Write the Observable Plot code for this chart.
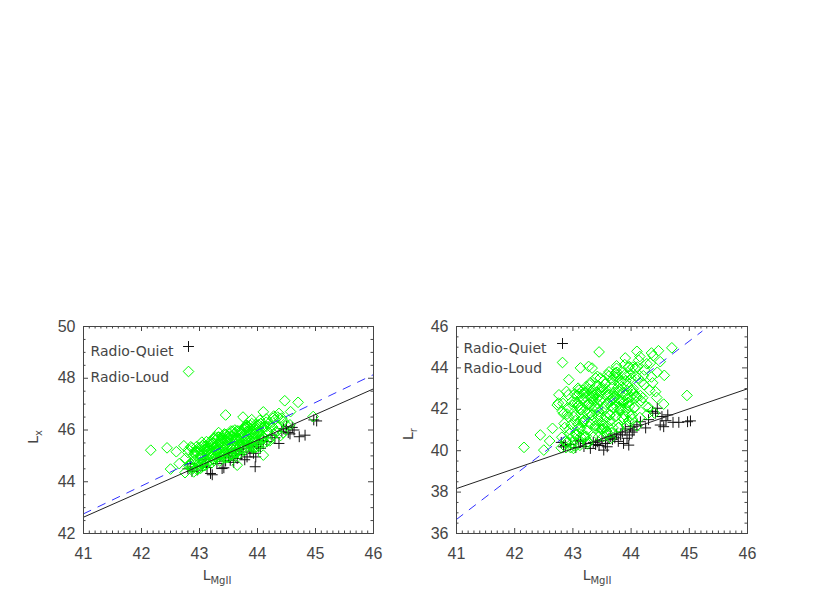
<!DOCTYPE html>
<html>
<head>
<meta charset="utf-8">
<script src="https://cdn.jsdelivr.net/npm/d3@7"></script>
<script src="https://cdn.jsdelivr.net/npm/@observablehq/plot@0.6"></script>
<style>
  html, body { margin: 0; padding: 0; background: #fff; }
  #fig { position: relative; width: 830px; height: 593px; background: #fff; overflow: hidden; }
  #fig svg { position: absolute; }
</style>
</head>
<body>
<div id="fig"></div>
<script>
// ---------- Data ----------
// Radio-Loud objects: L_MgII, L_X, L_r
const rlMgII = [42.16,42.44,42.50,42.60,42.65,42.73,42.75,42.82,42.90,43.45,44.47,44.70,44.96,44.57,44.10,44.10,43.65,43.33,42.93,43.01,44.56,44.35,44.15,43.90,43.75,42.76,43.13,43.27,43.42,
  42.80,42.83,42.85,42.88,42.90,42.92,42.95,42.97,43.00,43.02,43.04,43.05,43.07,43.09,43.10,43.12,43.14,43.15,43.17,43.19,
  43.20,43.22,43.24,43.25,43.27,43.29,43.30,43.32,43.34,43.35,43.37,43.39,43.40,43.42,43.44,43.45,43.47,43.49,43.50,43.52,
  43.54,43.55,43.57,43.59,43.60,43.62,43.64,43.65,43.67,43.69,43.70,43.72,43.74,43.75,43.77,43.79,43.80,43.82,43.84,43.85,
  43.87,43.89,43.90,43.92,43.94,43.95,43.97,43.99,44.00,44.02,44.04,44.05,44.07,44.09,44.12,44.15,44.18,44.20,44.23,44.26,
  44.30,44.33,44.37,44.40,44.45,44.50,
  42.81,42.86,42.91,42.96,43.01,43.06,43.11,43.16,43.21,43.26,43.31,43.36,43.41,43.46,43.51,43.56,43.61,43.66,43.71,43.76,
  43.81,43.86,43.91,43.96,44.01,44.06,44.11,44.16,44.21,44.28,44.35,44.42,43.03,43.13,43.23,43.33,43.43,43.53,43.63,43.73,
  43.83,43.93,43.48,43.58,43.68,43.38,43.28,43.18,43.08,43.78,
  42.84,42.87,42.89,42.93,42.94,42.98,42.99,43.03,43.04,43.08,43.09,43.13,43.14,43.18,43.19,43.23,43.24,43.28,43.29,43.33,
  43.34,43.38,43.39,43.43,43.44,43.48,43.49,43.53,43.54,43.58,43.59,43.63,43.64,43.68,43.69,43.73,43.74,43.78,43.79,43.83,
  43.84,43.88,43.89,43.93,43.94,43.98,43.99,44.03,44.04,44.08,44.13,44.17,44.22,44.27,44.32,44.38,44.44,
  43.12,43.22,43.32,43.42,43.52,43.62,43.72,43.82,43.92,44.02,43.17,43.27,43.37,43.47,43.57,43.67,43.77,43.87,43.97,43.07,
  43.25,43.35,43.45,43.55,43.65,43.75,43.85,43.95,43.50,43.60,43.70,43.80,43.40,43.30,43.90,44.00,43.20,44.10,43.10,43.00];
const rlLx = [45.22,45.31,44.49,45.16,44.70,45.39,44.35,44.60,44.38,46.58,47.13,47.07,46.52,46.71,46.70,45.03,44.64,45.90,45.20,44.90,46.20,46.50,46.30,46.40,46.50,44.90,45.30,44.95,45.60,
  45.13,44.66,45.35,44.50,45.02,44.83,45.36,44.67,45.20,44.52,45.03,45.39,44.81,45.23,44.64,45.55,45.07,45.38,44.80,45.21,
  45.47,44.99,45.68,44.81,45.33,45.15,45.66,44.97,45.49,44.80,45.31,45.68,45.09,45.51,44.92,45.83,45.35,45.67,45.08,45.49,
  45.76,45.27,45.96,45.10,45.61,45.43,45.94,45.25,45.77,45.09,45.60,45.96,45.38,45.79,45.21,46.12,45.63,45.95,45.36,45.77,
  46.04,45.56,46.25,45.38,45.90,45.71,46.22,45.54,46.05,45.37,45.88,46.24,45.66,46.08,45.50,46.43,45.95,46.27,45.70,46.12,
  46.41,45.93,46.64,45.79,46.33,46.18,
  45.24,44.58,45.12,44.47,45.01,45.40,44.84,45.29,44.73,45.67,45.21,45.56,45.00,45.44,45.73,45.28,46.00,45.16,45.70,45.55,
  46.09,45.43,45.97,45.32,45.86,46.25,45.69,46.14,45.58,46.54,46.10,46.46,44.68,45.16,45.50,45.08,45.85,45.05,45.64,45.52,
  46.11,45.49,45.61,44.99,45.58,45.67,44.99,45.30,44.62,46.11,
  44.71,45.31,44.53,45.16,45.00,44.50,45.32,44.91,45.53,44.79,45.26,44.69,45.20,45.53,44.96,45.48,44.87,45.36,45.20,45.73,
  45.14,45.74,44.95,45.59,45.42,44.93,45.75,45.33,45.96,45.21,45.68,45.12,45.62,45.96,45.39,45.90,45.30,45.78,45.62,46.16,
  45.56,46.17,45.38,46.01,45.85,45.35,46.17,45.76,46.38,45.64,46.14,45.57,46.12,46.46,45.92,46.45,45.89,
  45.22,45.14,45.72,45.21,45.86,45.15,45.83,45.75,45.30,46.20,45.02,45.73,45.03,45.58,45.06,45.65,46.03,45.54,46.10,44.73,
  45.33,45.25,45.83,45.32,45.97,45.26,45.94,45.86,44.95,45.84,45.48,46.18,45.06,45.44,45.35,45.93,45.55,45.74,45.37,44.67];
const rlLr = [40.16,40.76,40.03,40.47,41.08,42.21,42.30,41.90,40.40,44.77,44.83,44.97,42.67,43.64,44.80,41.20,40.60,43.99,43.43,40.11,42.25,44.72,44.55,44.48,44.10,42.70,44.00,44.07,43.59,
  40.14,42.28,41.31,40.15,41.77,42.70,40.84,41.26,42.20,40.23,41.70,40.77,42.69,41.27,42.18,40.26,41.98,41.20,42.52,40.75,
  40.66,42.79,41.81,40.33,42.25,43.18,41.29,41.72,42.64,40.66,42.13,41.21,43.12,41.70,42.62,40.69,42.41,41.64,42.95,41.18,
  41.10,43.22,42.24,40.77,42.68,43.61,41.73,42.15,43.07,41.10,42.56,41.64,43.56,42.13,43.05,41.13,42.84,42.07,43.39,41.61,
  41.53,43.66,42.67,41.20,43.12,44.04,42.16,42.59,43.50,41.53,43.00,42.07,43.99,42.57,43.51,41.60,43.33,42.56,43.90,42.14,
  42.09,44.23,43.28,41.82,43.79,44.30,
  40.65,41.12,42.08,40.15,41.66,40.78,42.74,41.36,42.32,40.44,42.20,41.47,42.83,41.10,41.06,43.23,42.29,40.86,42.82,43.79,
  41.95,42.42,43.38,41.45,42.96,42.08,44.04,42.66,43.62,41.76,43.56,42.85,42.34,40.67,40.70,42.93,42.06,40.69,42.72,43.75,
  41.98,42.51,42.82,40.95,42.53,41.19,42.96,41.38,42.15,41.11,
  41.79,40.43,42.86,41.61,41.02,42.37,40.39,42.74,41.45,42.30,43.02,41.07,41.78,42.78,41.45,43.10,41.01,42.26,42.68,41.73,
  42.44,41.09,43.51,42.26,41.67,43.02,41.04,43.39,42.10,42.95,43.67,41.72,42.43,43.43,42.10,43.75,41.66,42.91,43.33,42.38,
  43.09,41.74,44.16,42.91,42.32,43.67,41.69,44.04,42.75,43.60,44.37,42.42,43.19,44.20,42.92,44.59,42.57,
  42.06,42.59,41.72,42.55,41.28,43.81,42.64,42.17,43.60,41.73,42.92,41.75,42.68,43.51,41.64,42.47,43.55,42.33,44.06,40.79,
  42.23,42.76,41.89,42.72,41.45,43.98,42.81,42.34,43.05,41.18,43.61,42.44,42.72,43.29,42.07,42.90,42.81,42.63,42.93,40.70];

// Radio-Quiet objects: L_MgII, L_X, L_r
const rqMgII = [42.80,42.84,42.87,42.96,43.05,43.10,43.13,43.19,43.22,43.30,43.35,43.39,43.42,43.45,43.50,43.53,43.56,43.59,43.62,43.65,
  43.68,43.72,43.75,43.78,43.82,43.85,43.87,43.90,43.93,43.96,43.97,43.99,44.02,44.05,44.10,44.16,44.25,44.30,44.37,44.42,
  44.45,44.50,44.53,44.56,44.60,44.63,44.72,44.82,44.97,45.02];
const rqLx = [44.50,44.70,44.40,44.45,44.60,44.85,44.55,44.32,44.27,44.70,44.95,44.51,44.54,44.80,45.00,44.83,45.10,44.75,45.20,44.90,
  45.25,45.05,45.30,44.85,44.96,45.40,45.15,45.35,45.10,44.58,44.96,45.45,45.35,45.29,45.60,45.55,45.80,45.70,45.48,45.95,
  46.05,46.13,45.90,45.85,46.10,46.00,45.74,45.80,46.39,46.35];
const rqLr = [40.40,40.19,40.25,40.30,40.15,40.50,40.45,40.20,40.35,40.11,40.40,40.30,40.43,40.25,40.50,40.03,40.35,40.19,40.60,40.68,
  40.55,40.62,40.80,40.45,40.76,40.90,40.35,41.05,40.60,40.27,40.76,41.16,40.90,41.00,41.25,41.40,41.10,41.50,41.90,41.81,
  42.05,41.24,41.65,41.16,41.45,41.73,41.37,41.37,41.40,41.44];

// Fit lines (end points)
const fitX = [41, 46];
const fitLxRQ = [42.63, 47.59];   // solid black, left panel
const fitLxRL = [42.76, 48.14];   // dashed blue, left panel
const fitLrRQ = [38.17, 42.99];   // solid black, right panel
const fitLrRLx = [41, 45.22];
const fitLrRL = [36.68, 45.77];   // dashed blue, right panel

// Ticks
const xTicks = [41, 42, 43, 44, 45, 46];
const yTicksX = [42, 44, 46, 48, 50];
const yTicksR = [36, 38, 40, 42, 44, 46];
const legendLabels = ["Radio-Quiet", "Radio-Loud"];

// ---------- Helpers ----------
const INK = "#454545";
const GREEN = "#00ff00";
const zipXY = (xs, ys) => xs.map((x, i) => ({x, y: ys[i]}));
const minor = (lo, hi, step, majors) =>
  d3.range(Math.round((hi - lo) / step) + 1).map(i => +(lo + i * step).toFixed(3))
    .filter(v => !majors.some(m => Math.abs(m - v) < 1e-6));

function panel({width, height, mL, mR, mT, mB, yDomain, yTicks, yMinorStep, rlY, rqY, blackY, blueX, blueY, leg}) {
  const fw = width - mL - mR, fh = height - mT - mB;
  const xMinor = minor(41, 46, 0.1, xTicks);
  const yMinor = minor(yDomain[0], yDomain[1], yMinorStep, yTicks);
  const MJ = 5, MN = 2.5;
  const tickStyle = {stroke: INK, strokeWidth: 1};
  const rq = zipXY(rqMgII, rqY), rl = zipXY(rlMgII, rlY);
  const legendItems = legendLabels.map((label, i) => ({label, i}));
  const legFont = {fill: INK, fontSize: 14, fontFamily: "'DejaVu Sans', sans-serif"};
  return Plot.plot({
    width, height,
    marginLeft: mL, marginRight: mR, marginTop: mT, marginBottom: mB,
    x: {domain: [41, 46], axis: null},
    y: {domain: yDomain, axis: null},
    style: {fontFamily: "'Liberation Sans', Arial, sans-serif", fontSize: "16px", color: INK, background: "transparent"},
    marks: [
      // points
      Plot.dot(rq, {x: "x", y: "y", symbol: "plus", r: 3.6, stroke: "#111", strokeWidth: 1, clip: true}),
      Plot.dot(rl, {x: "x", y: "y", symbol: "diamond2", r: 4.8, stroke: GREEN, strokeWidth: 1, fill: "none", clip: true}),
      // fit lines
      Plot.line(zipXY(fitX, blackY), {x: "x", y: "y", stroke: "#222", strokeWidth: 1, clip: true}),
      Plot.line(zipXY(blueX, blueY), {x: "x", y: "y", stroke: "#3030ff", strokeWidth: 1, strokeDasharray: "8,8", clip: true}),
      // frame
      Plot.frame({stroke: INK, strokeWidth: 1}),
      // inward ticks on all four sides
      Plot.tickX(xTicks, {x: d => d, insetTop: fh - MJ, ...tickStyle}),
      Plot.tickX(xTicks, {x: d => d, insetBottom: fh - MJ, ...tickStyle}),
      Plot.tickX(xMinor, {x: d => d, insetTop: fh - MN, ...tickStyle}),
      Plot.tickX(xMinor, {x: d => d, insetBottom: fh - MN, ...tickStyle}),
      Plot.tickY(yTicks, {y: d => d, insetRight: fw - MJ, ...tickStyle}),
      Plot.tickY(yTicks, {y: d => d, insetLeft: fw - MJ, ...tickStyle}),
      Plot.tickY(yMinor, {y: d => d, insetRight: fw - MN, ...tickStyle}),
      Plot.tickY(yMinor, {y: d => d, insetLeft: fw - MN, ...tickStyle}),
      // tick labels
      Plot.axisX({ticks: xTicks, tickFormat: d => String(d), anchor: "bottom", tickSize: 0, tickPadding: 14, label: null, fill: INK, fontSize: 16}),
      Plot.axisY({ticks: yTicks, tickFormat: d => String(d), anchor: "left", tickSize: 0, tickPadding: 8, label: null, fill: INK, fontSize: 16}),
      // legend
      Plot.text([legendItems[0]], {text: "label", frameAnchor: "top-left", textAnchor: "start", dx: leg.tx, dy: leg.y1, ...legFont}),
      Plot.text([legendItems[1]], {text: "label", frameAnchor: "top-left", textAnchor: "start", dx: leg.tx, dy: leg.y2, ...legFont}),
      Plot.dot([legendItems[0]], {frameAnchor: "top-left", dx: leg.mx, dy: leg.y1, symbol: "plus", r: 3.6, stroke: "#111", strokeWidth: 1}),
      Plot.dot([legendItems[1]], {frameAnchor: "top-left", dx: leg.mx, dy: leg.y2 - 1, symbol: "diamond2", r: 4.8, stroke: GREEN, strokeWidth: 1, fill: "none"})
    ]
  });
}

function addTitles(svg, xT, yT, ySub) {
  const s = d3.select(svg);
  const xt = s.append("text").attr("x", xT.x).attr("y", xT.y)
    .attr("fill", INK).attr("font-family", "'DejaVu Sans', sans-serif").attr("font-size", 14);
  xt.append("tspan").text("L");
  xt.append("tspan").attr("dy", 4).attr("font-size", 10).text("MgII");
  const yt = s.append("text").attr("transform", `translate(${yT.x},${yT.y}) rotate(-90)`)
    .attr("fill", INK).attr("font-family", "'DejaVu Sans', sans-serif").attr("font-size", 14);
  yt.append("tspan").text("L");
  yt.append("tspan").attr("dy", 4).attr("font-size", 10).text(ySub);
}

const fig = document.getElementById("fig");

// Left panel: L_X vs L_MgII
const left = panel({
  width: 415, height: 293, mL: 83, mR: 42, mT: 26, mB: 60,
  yDomain: [42, 50], yTicks: yTicksX, yMinorStep: 0.5,
  rlY: rlLx, rqY: rqLx, blackY: fitLxRQ, blueX: fitX, blueY: fitLxRL,
  leg: {tx: 7, mx: 105, y1: 20, y2: 46}
});
left.style.left = "0px"; left.style.top = "300px";
fig.appendChild(left);
addTitles(left, {x: 217, y: 280}, {x: 38, y: 137}, "x");

// Right panel: L_r vs L_MgII
const right = panel({
  width: 430, height: 293, mL: 56, mR: 83, mT: 26, mB: 60,
  yDomain: [36, 46], yTicks: yTicksR, yMinorStep: 0.5,
  rlY: rlLr, rqY: rqLr, blackY: fitLrRQ, blueX: fitLrRLx, blueY: fitLrRL,
  leg: {tx: 7, mx: 106, y1: 17, y2: 37}
});
right.style.left = "400px"; right.style.top = "300px";
fig.appendChild(right);
addTitles(right, {x: 197, y: 280}, {x: 13, y: 134}, "r");
</script>
</body>
</html>
